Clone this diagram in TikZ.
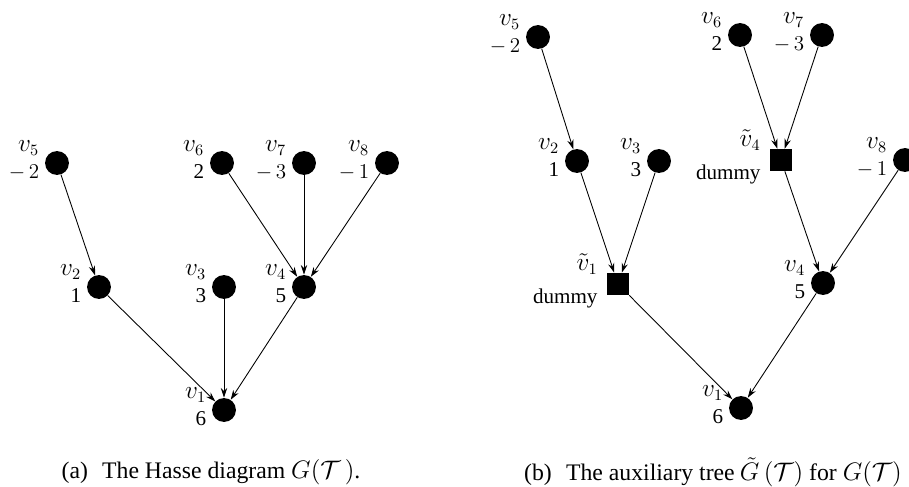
\documentclass[tikz,border=0pt]{standalone}
\usepackage{fontspec}
\setmainfont{Liberation Serif}
\usepackage{tikz}
\usetikzlibrary{positioning, arrows.meta}

\begin{document}
\begin{tikzpicture}[on grid,
    font=\fontsize{12}{14}\selectfont,
    dot/.style={circle, fill, minimum size=13.6pt, inner sep=0pt},
    dum/.style={rectangle, fill, minimum size=12.5pt, inner sep=0pt},
    vl/.style={anchor=south east, inner sep=0pt, xshift=-5pt, yshift=-1pt, font=\fontsize{13.5}{15}\selectfont},
    vv/.style={anchor=north east, inner sep=0pt, xshift=-5pt, yshift=4pt},
    captxt/.style={font=\fontsize{13.5}{15}\selectfont},
    arr/.style={-{Stealth[length=5.5pt, width=3.6pt]}, line width=0.5pt}]
    \useasboundingbox (0,0) rectangle (18.18,9.72);
    % (a) Hasse diagram
    \node[dot, label={[vl]north west:$v_1$}, label={[vv]south west:6}] (v1) at (4.48,1.52) {};
    \node[dot, above left=2.46cm and 2.5cm of v1, label={[vl]north west:$v_2$}, label={[vv]south west:1}] (v2) {};
    \node[dot, above=2.46cm of v1, label={[vl]north west:$v_3$}, label={[vv]south west:3}] (v3) {};
    \node[dot, above right=2.46cm and 1.6cm of v1, label={[vl]north west:$v_4$}, label={[vv]south west:5}] (v4) {};
    \node[dot, above left=2.48cm and 0.84cm of v2, label={[vl]north west:$v_5$}, label={[vv]south west:$-\,2$}] (v5) {};
    \node[dot, above left=2.48cm and 1.64cm of v4, label={[vl]north west:$v_6$}, label={[vv]south west:2}] (v6) {};
    \node[dot, above=2.48cm of v4, label={[vl]north west:$v_7$}, label={[vv]south west:$-\,3$}] (v7) {};
    \node[dot, above right=2.48cm and 1.66cm of v4, label={[vl]north west:$v_8$}, label={[vv]south west:$-\,1$}] (v8) {};
    \draw[arr](v5)--(v2);\draw[arr](v2)--(v1);\draw[arr](v3)--(v1);\draw[arr](v4)--(v1);
    \draw[arr](v6)--(v4);\draw[arr](v7)--(v4);\draw[arr](v8)--(v4);
    \node[captxt] (capa) at (4.22,0.28) {(a)\hspace{0.6em}The Hasse diagram $G(\mathcal{T}\,)$.};
    % (b) auxiliary tree
    \node[dot, label={[vl]north west:$v_1$}, label={[vv]south west:6}] (bv1) at (14.82,1.56) {};
    \node[dum, above left=2.48cm and 2.46cm of bv1, label={[vl]north west:$\tilde{v}_1$}, label={[vv]south west:dummy}] (t1) {};
    \node[dot, above right=2.5cm and 1.64cm of bv1, label={[vl]north west:$v_4$}, label={[vv]south west:5}] (bv4) {};
    \node[dot, above left=2.46cm and 0.82cm of t1, label={[vl]north west:$v_2$}, label={[vv]south west:1}] (bv2) {};
    \node[dot, above right=2.46cm and 0.82cm of t1, label={[vl]north west:$v_3$}, label={[vv]south west:3}] (bv3) {};
    \node[dum, above left=2.46cm and 0.84cm of bv4, label={[vl]north west:$\tilde{v}_4$}, label={[vv]south west:dummy}] (t4) {};
    \node[dot, above right=2.46cm and 1.64cm of bv4, label={[vl]north west:$v_8$}, label={[vv]south west:$-\,1$}] (bv8) {};
    \node[dot, above left=2.48cm and 0.78cm of bv2, label={[vl]north west:$v_5$}, label={[vv]south west:$-\,2$}] (bv5) {};
    \node[dot, above left=2.5cm and 0.82cm of t4, label={[vl]north west:$v_6$}, label={[vv]south west:2}] (bv6) {};
    \node[dot, above right=2.5cm and 0.82cm of t4, label={[vl]north west:$v_7$}, label={[vv]south west:$-\,3$}] (bv7) {};
    \draw[arr](bv5)--(bv2);\draw[arr](bv2)--(t1);\draw[arr](bv3)--(t1);\draw[arr](t1)--(bv1);
    \draw[arr](bv6)--(t4);\draw[arr](bv7)--(t4);\draw[arr](t4)--(bv4);\draw[arr](bv8)--(bv4);
    \draw[arr](bv4)--(bv1);
    \node[captxt] (capb) at (14.26,0.28) {(b)\hspace{0.6em}The auxiliary tree\hspace{3pt}$\tilde{G}\,(\mathcal{T})$ for $G(\mathcal{T})$};
  \end{tikzpicture}
\end{document}
